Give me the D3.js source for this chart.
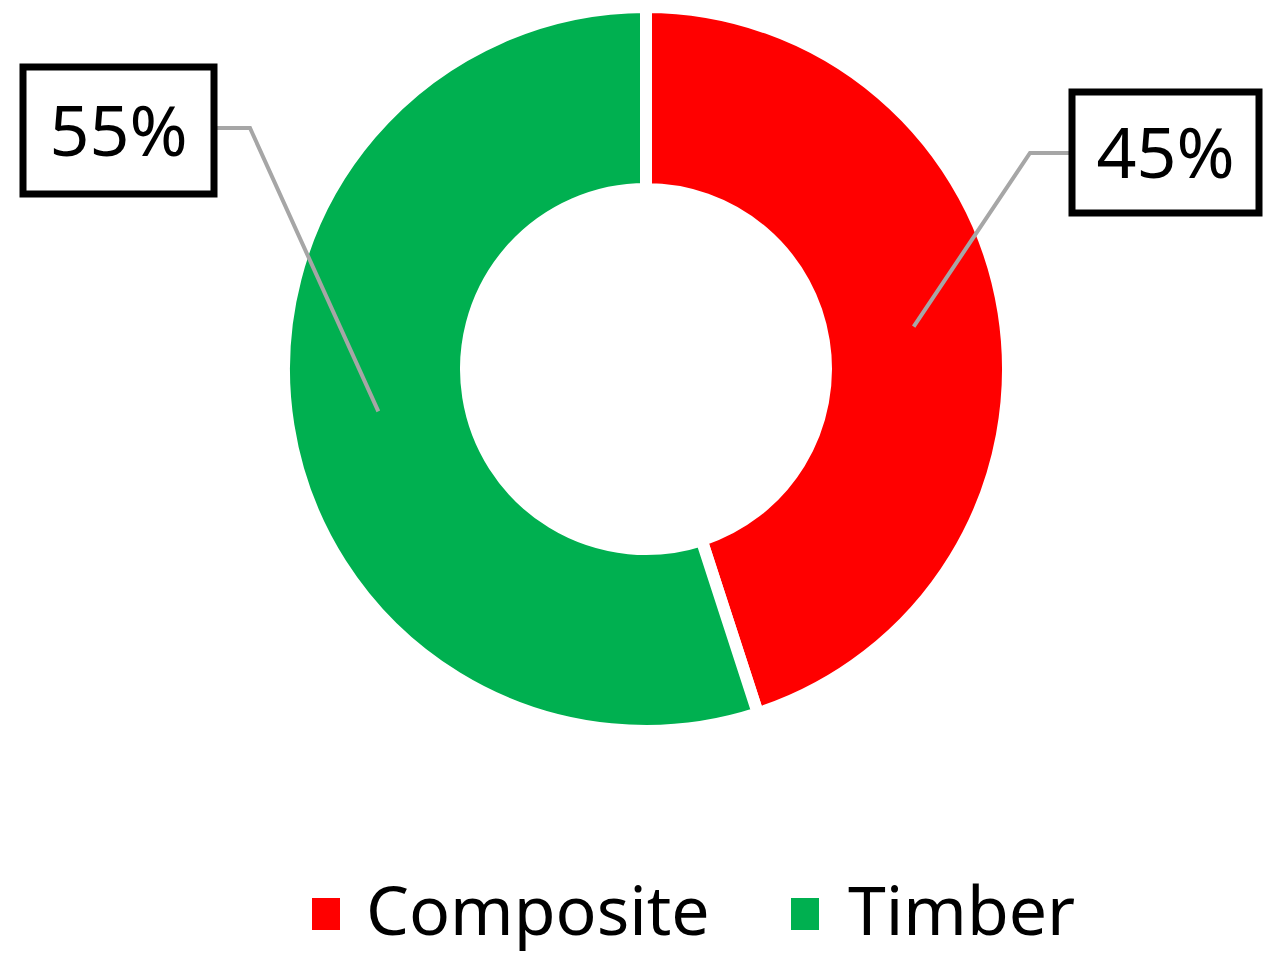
<!DOCTYPE html>
<html>
<head>
<meta charset="utf-8">
<script src="https://cdn.jsdelivr.net/npm/d3@7"></script>
<style>
  html, body { margin: 0; padding: 0; background: #ffffff; }
  svg { display: block; }
  text { font-family: "Noto Sans", "Open Sans", sans-serif; fill: #000; }
</style>
</head>
<body>
<svg id="chart" width="1279" height="971"></svg>
<script>
const categories = ["Composite", "Timber"];
const values = [45, 55];
const colors = ["#ff0000", "#00b050"];
const labels = ["45%", "55%"];

const svg = d3.select("#chart");
const cx = 646, cy = 369;
const outerR = 362, innerR = 180;

const pie = d3.pie().sort(null).value(d => d)(values);
const arc = d3.arc().innerRadius(innerR).outerRadius(outerR);
const midArc = d3.arc().innerRadius(271).outerRadius(271);

const g = svg.append("g").attr("transform", `translate(${cx},${cy})`);
g.selectAll("path.slice")
  .data(pie)
  .join("path")
  .attr("class", "slice")
  .attr("d", arc)
  .attr("fill", (d, i) => colors[i])
  .attr("stroke", "#ffffff")
  .attr("stroke-width", 12)
  .attr("stroke-linejoin", "miter");

// label boxes (layout)
const boxes = [
  { x: 1072, y: 92, w: 187, h: 121, elbowX: 1030, anchorY: 153 },
  { x: 23, y: 67, w: 191, h: 127, elbowX: 250, anchorY: 128 }
];

pie.forEach((d, i) => {
  const b = boxes[i];
  const c = midArc.centroid(d);
  const px = cx + c[0], py = cy + c[1];
  const boxEdgeX = (i === 0) ? b.x : b.x + b.w;
  svg.append("polyline")
    .attr("points", `${px},${py} ${b.elbowX},${b.anchorY} ${boxEdgeX},${b.anchorY}`)
    .attr("fill", "none")
    .attr("stroke", "#a6a6a6")
    .attr("stroke-width", 4);
  svg.append("rect")
    .attr("x", b.x).attr("y", b.y).attr("width", b.w).attr("height", b.h)
    .attr("fill", "#ffffff")
    .attr("stroke", "#000000")
    .attr("stroke-width", 7);
  svg.append("text")
    .attr("x", b.x + b.w / 2)
    .attr("y", b.y + b.h / 2 + 25)
    .attr("text-anchor", "middle")
    .attr("font-size", 70)
    .text(labels[i]);
});

// legend
const legendItems = [
  { sx: 312, tx: 366 },
  { sx: 791, tx: 848 }
];
const lg = svg.append("g");
categories.forEach((c, i) => {
  lg.append("rect")
    .attr("x", legendItems[i].sx).attr("y", 898)
    .attr("width", 28).attr("height", 32)
    .attr("fill", colors[i]);
  lg.append("text")
    .attr("x", legendItems[i].tx)
    .attr("y", 935)
    .attr("font-size", 68)
    .text(c);
});
</script>
</body>
</html>
